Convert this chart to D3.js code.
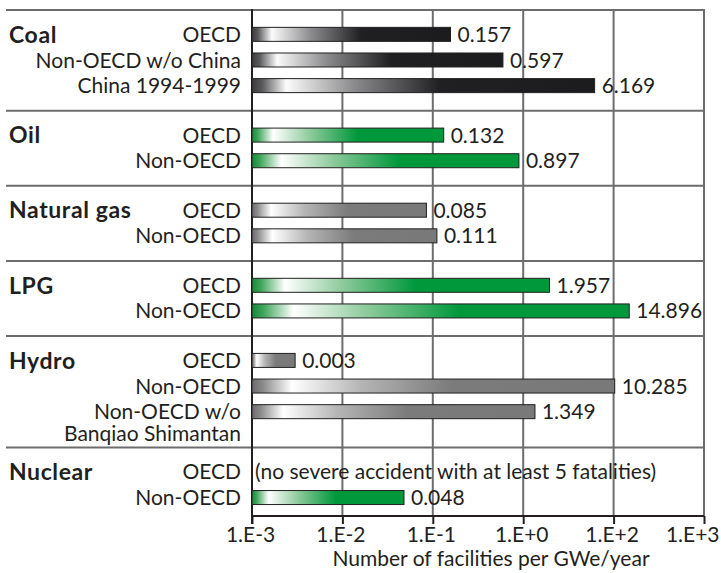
<!DOCTYPE html>
<html>
<head>
<meta charset="utf-8">
<script src="https://cdn.jsdelivr.net/npm/d3@7"></script>
<style>
  html, body { margin: 0; padding: 0; background: #fff; }
  svg { display: block; }
  text { font-family: Lato, "Noto Sans", sans-serif; fill: #231f20; }
</style>
</head>
<body>
<script>
// Severe accidents by energy chain: facilities per GWe/year (log scale)
const groups = ["Coal", "Oil", "Natural gas", "LPG", "Hydro", "Nuclear"];
const groupStyle = ["coal", "green", "gray", "green", "gray", "green"];

const rowGroup = ["Coal", "Coal", "Coal", "Oil", "Oil", "Natural gas", "Natural gas",
                  "LPG", "LPG", "Hydro", "Hydro", "Hydro", "Nuclear", "Nuclear"];
const rowLabels = ["OECD", "Non-OECD w/o China", "China 1994-1999", "OECD", "Non-OECD",
                   "OECD", "Non-OECD", "OECD", "Non-OECD", "OECD", "Non-OECD",
                   "Non-OECD w/o|Banqiao Shimantan", "OECD", "Non-OECD"];
const values = [0.157, 0.597, 6.169, 0.132, 0.897, 0.085, 0.111,
                1.957, 14.896, 0.003, 10.285, 1.349, null, 0.048];
const valueLabels = ["0.157", "0.597", "6.169", "0.132", "0.897", "0.085", "0.111",
                     "1.957", "14.896", "0.003", "10.285", "1.349", null, "0.048"];
const rowNotes = [null, null, null, null, null, null, null, null, null, null, null, null,
                  "(no severe accident with at least 5 fatalities)", null];

const tickValues = [1e-3, 1e-2, 1e-1, 1e0, 1e1, 1e2];
const tickLabels = ["1.E-3", "1.E-2", "1.E-1", "1.E+0", "1.E+2", "1.E+3"];
const xTitle = "Number of facilities per GWe/year";

const W = 721, H = 573;
const frameLeft = 6, plotLeft = 252, plotRight = 704, plotTop = 10, plotBottom = 516;
const FS = 21;

const svg = d3.select("body").append("svg").attr("width", W).attr("height", H);

// gradients: dark edge, bright highlight, then solid colour
const defs = svg.append("defs");
const gradStops = {
  coal:  [[0, "#3c3c3e"], [0.03, "#5a5a5c"], [0.10, "#fbfbfb"], [0.30, "#8a8a8c"], [0.55, "#202022"], [1, "#1c1c1e"]],
  green: [[0, "#17893a"], [0.03, "#3fa55a"], [0.11, "#ffffff"], [0.30, "#8fcb9d"], [0.55, "#00983b"], [1, "#00983b"]],
  gray:  [[0, "#6c6c6c"], [0.03, "#8a8a8a"], [0.11, "#ffffff"], [0.30, "#b5b5b5"], [0.55, "#7b7b7b"], [1, "#797979"]]
};
Object.entries(gradStops).forEach(([k, stops]) => {
  const g = defs.append("linearGradient").attr("id", "grad-" + k)
    .attr("x1", 0).attr("x2", 1).attr("y1", 0).attr("y2", 0);
  stops.forEach(([o, c]) => g.append("stop").attr("offset", o).attr("stop-color", c));
});

// vertical layout in row slots
const padTop = 0.95, padBottom = 0.98, lastPadBottom = 0.72, extraLine = 0.42;
const rowSlot = [];
const groupBounds = [];
let cursor = 0;
groups.forEach((g, gi) => {
  const start = cursor;
  cursor += padTop;
  const idx = rowGroup.map((r, i) => r === g ? i : -1).filter(i => i >= 0);
  idx.forEach((i, k) => {
    if (k > 0) cursor += 1;
    rowSlot[i] = cursor;
  });
  const last = idx[idx.length - 1];
  cursor += (rowLabels[last].split("|").length - 1) * extraLine;
  cursor += gi === groups.length - 1 ? lastPadBottom : padBottom;
  groupBounds.push([start, cursor]);
});

const y = d3.scaleLinear().domain([0, cursor]).range([plotTop, plotBottom]);
const x = d3.scaleLog().domain([1e-3, 1e2]).range([plotLeft, plotRight]);
const barH = 14;

// frame and group separators
const sepYs = [0].concat(groupBounds.slice(0, -1).map(b => b[1]));
svg.append("g").selectAll("line").data(sepYs).join("line")
  .attr("x1", frameLeft).attr("x2", plotRight)
  .attr("y1", d => y(d)).attr("y2", d => y(d))
  .attr("stroke", "#6d6d6d").attr("stroke-width", 2);

// vertical grid lines
svg.append("g").selectAll("line").data(tickValues.slice(1)).join("line")
  .attr("x1", d => x(d)).attr("x2", d => x(d))
  .attr("y1", plotTop - 1).attr("y2", plotBottom)
  .attr("stroke", "#6d6d6d").attr("stroke-width", 2);

// bottom axis with ticks below the line
const xAxis = d3.axisBottom(x).tickValues(tickValues)
  .tickFormat((d, i) => tickLabels[i]).tickSize(8).tickPadding(3);
const axisG = svg.append("g").attr("transform", `translate(0,${plotBottom})`).call(xAxis);
axisG.select(".domain").attr("stroke", "#231f20").attr("stroke-width", 2)
  .attr("d", `M${plotLeft},0H${plotRight}`);
axisG.selectAll(".tick line").attr("stroke", "#231f20").attr("stroke-width", 2);
axisG.selectAll(".tick text").attr("font-size", FS).attr("fill", "#231f20")
  .attr("font-family", "Lato, sans-serif").attr("dx", -2);
// keep the last label inside the page
axisG.selectAll(".tick").filter((d, i) => i === tickValues.length - 1).select("text")
  .attr("text-anchor", "end").attr("x", W - 2 - x(tickValues[tickValues.length - 1])).attr("dx", 0);

// left axis line
svg.append("line").attr("x1", plotLeft).attr("x2", plotLeft)
  .attr("y1", plotTop - 1).attr("y2", plotBottom + 8)
  .attr("stroke", "#231f20").attr("stroke-width", 2);

// axis title
svg.append("text").attr("x", 491).attr("y", 566)
  .attr("text-anchor", "middle").attr("font-size", FS).text(xTitle);

// group titles
svg.append("g").selectAll("text").data(groups).join("text")
  .attr("x", 9)
  .attr("y", (g) => y(rowSlot[rowGroup.indexOf(g)]))
  .attr("dy", "0.36em")
  .attr("font-size", 23).attr("font-weight", 700).attr("letter-spacing", 0.6)
  .text(d => d);

// row labels (multi-line where needed)
const rowIdx = d3.range(rowLabels.length);
const lbl = svg.append("g").selectAll("text").data(rowIdx).join("text")
  .attr("text-anchor", "end").attr("font-size", FS)
  .attr("y", i => y(rowSlot[i]));
lbl.each(function (i) {
  const parts = rowLabels[i].split("|");
  d3.select(this).selectAll("tspan").data(parts).join("tspan")
    .attr("x", 241).attr("dy", (p, k) => k === 0 ? "0.36em" : "22px").text(p => p);
});

// bars
const barRows = rowIdx.filter(i => values[i] != null);
const styleOf = i => groupStyle[groups.indexOf(rowGroup[i])];
svg.append("g").selectAll("rect").data(barRows).join("rect")
  .attr("x", plotLeft)
  .attr("y", i => y(rowSlot[i]) - barH / 2)
  .attr("width", i => x(values[i]) - plotLeft)
  .attr("height", barH)
  .attr("fill", i => `url(#grad-${styleOf(i)})`)
  .attr("stroke", "#231f20").attr("stroke-width", 1);

// value labels
svg.append("g").selectAll("text").data(barRows).join("text")
  .attr("x", i => x(values[i]) + 7)
  .attr("y", i => y(rowSlot[i])).attr("dy", "0.36em")
  .attr("font-size", FS)
  .text(i => valueLabels[i]);

// notes for rows without bars
svg.append("g").selectAll("text").data(rowIdx.filter(i => rowNotes[i])).join("text")
  .attr("x", plotLeft + 3)
  .attr("y", i => y(rowSlot[i])).attr("dy", "0.36em")
  .attr("font-size", FS)
  .text(i => rowNotes[i]);
</script>
</body>
</html>
